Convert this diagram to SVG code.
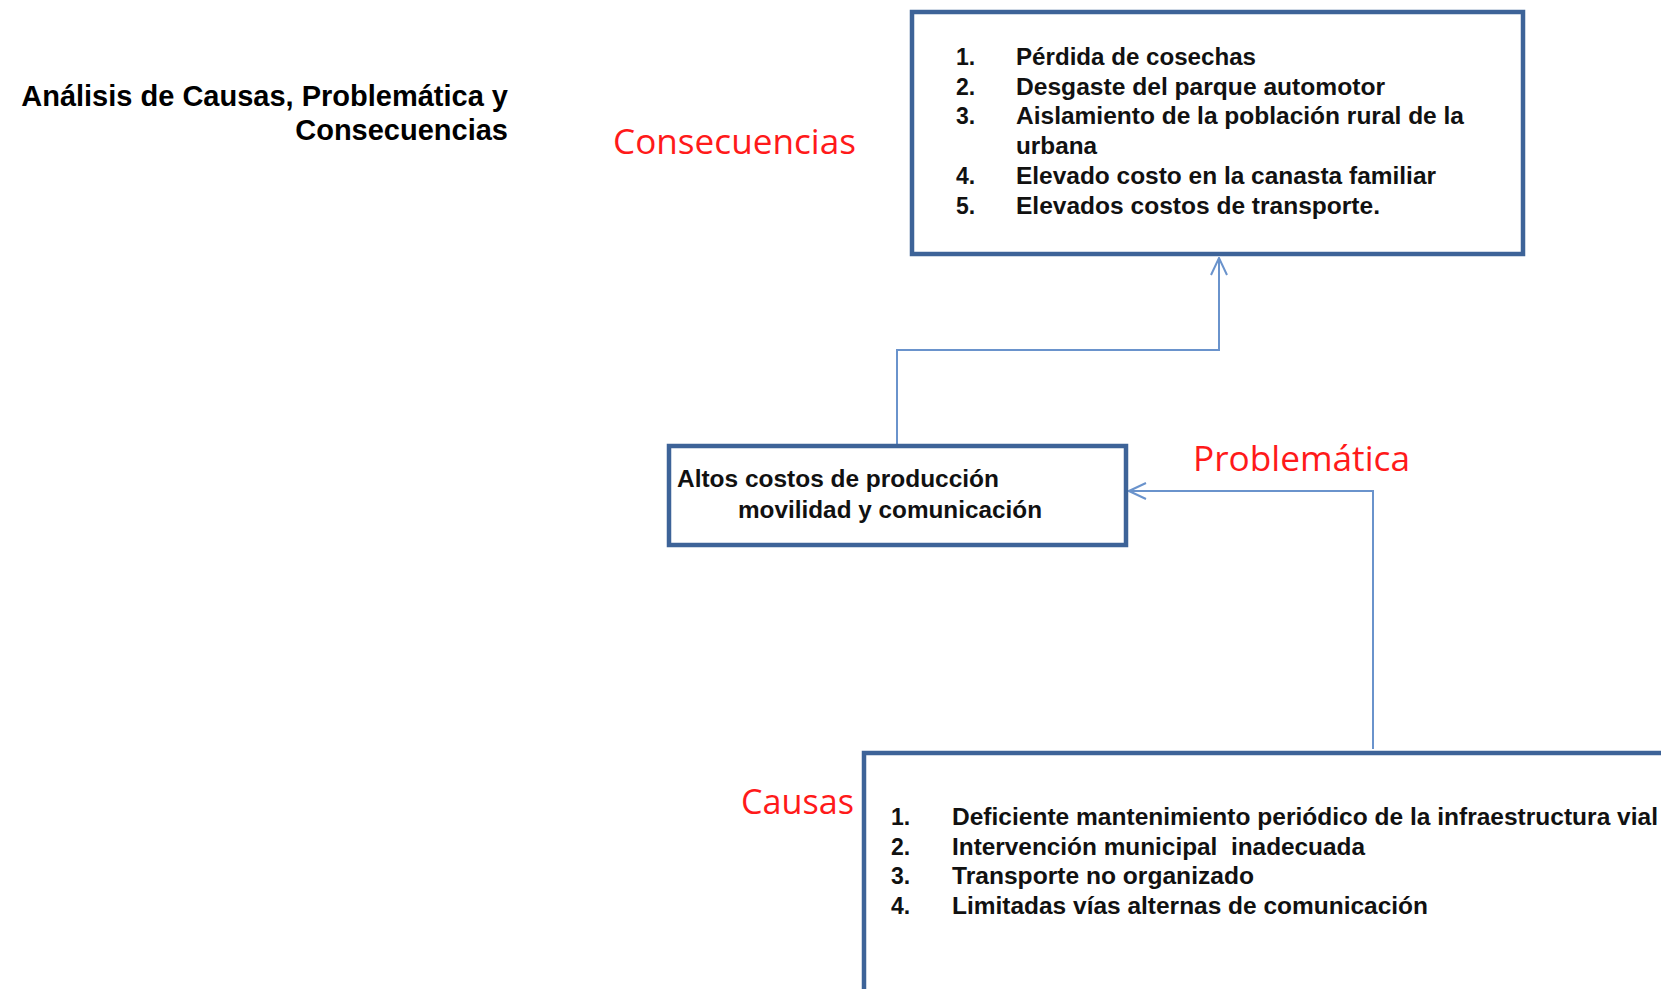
<svg xmlns="http://www.w3.org/2000/svg" width="1661" height="989" viewBox="0 0 1661 989">
<defs>
<style>
.box{fill:#fff;stroke:#3d6398;stroke-width:4.5}
.con{fill:none;stroke:#6a93cc;stroke-width:2}
.title{font-family:"Liberation Sans",Arial,sans-serif;font-weight:bold;font-size:29px;fill:#000}
.lbl{font-family:"Open Sans","Liberation Sans",sans-serif;font-size:34px;fill:#ff1a1a}
.item{font-family:"Liberation Sans",Arial,sans-serif;font-weight:bold;font-size:23px;fill:#111}
.pre{white-space:pre}
</style>
<marker id="arr" viewBox="0 0 20 20" refX="19" refY="10" markerWidth="20" markerHeight="20" markerUnits="userSpaceOnUse" orient="auto">
<path d="M2,2 L19,10 L2,18" fill="none" stroke="#6a93cc" stroke-width="2"/>
</marker>
</defs>
<rect width="1661" height="989" fill="#fff"/>
<g id="title">
<text class="title" x="508" y="106" text-anchor="end">Análisis de Causas, Problemática y</text>
<text class="title" x="508" y="140" text-anchor="end">Consecuencias</text>
</g>
<g id="connectors">
<path class="con" d="M897,444 V350 H1219 V258" marker-end="url(#arr)"/>
<path class="con" d="M1373,749 V491 H1129" marker-end="url(#arr)"/>
</g>
<g id="consecuencias">
<text class="lbl" x="613" y="154" textLength="243" lengthAdjust="spacingAndGlyphs">Consecuencias</text>
<rect class="box" x="912" y="12" width="611" height="242"/>
<g class="item">
<text x="956" y="65">1.</text><text x="1016" y="65" textLength="240" lengthAdjust="spacingAndGlyphs">Pérdida de cosechas</text>
<text x="956" y="95">2.</text><text x="1016" y="95" textLength="369" lengthAdjust="spacingAndGlyphs">Desgaste del parque automotor</text>
<text x="956" y="124">3.</text><text x="1016" y="124" textLength="448" lengthAdjust="spacingAndGlyphs">Aislamiento de la población rural de la</text>
<text x="1016" y="154" textLength="81" lengthAdjust="spacingAndGlyphs">urbana</text>
<text x="956" y="184">4.</text><text x="1016" y="184" textLength="420" lengthAdjust="spacingAndGlyphs">Elevado costo en la canasta familiar</text>
<text x="956" y="214">5.</text><text x="1016" y="214" textLength="364" lengthAdjust="spacingAndGlyphs">Elevados costos de transporte.</text>
</g>
</g>
<g id="problematica">
<text class="lbl" x="1193" y="471" textLength="217" lengthAdjust="spacingAndGlyphs">Problemática</text>
<rect class="box" x="669" y="446" width="457" height="99"/>
<g class="item">
<text x="677" y="487" textLength="322" lengthAdjust="spacingAndGlyphs">Altos costos de producción</text>
<text x="738" y="518" textLength="304" lengthAdjust="spacingAndGlyphs">movilidad y comunicación</text>
</g>
</g>
<g id="causas">
<text class="lbl" x="741" y="814" textLength="113" lengthAdjust="spacingAndGlyphs">Causas</text>
<rect class="box" x="864" y="753" width="820" height="260"/>
<g class="item">
<text x="891" y="825">1.</text><text x="952" y="825" textLength="706" lengthAdjust="spacingAndGlyphs">Deficiente mantenimiento periódico de la infraestructura vial</text>
<text x="891" y="855">2.</text><text class="pre" x="952" y="855" textLength="413" lengthAdjust="spacingAndGlyphs">Intervención municipal  inadecuada</text>
<text x="891" y="884">3.</text><text x="952" y="884" textLength="302" lengthAdjust="spacingAndGlyphs">Transporte no organizado</text>
<text x="891" y="914">4.</text><text x="952" y="914" textLength="476" lengthAdjust="spacingAndGlyphs">Limitadas vías alternas de comunicación</text>
</g>
</g>
</svg>
